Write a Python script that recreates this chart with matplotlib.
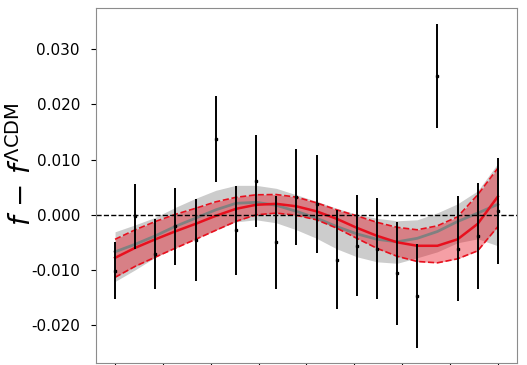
import matplotlib
matplotlib.use('Agg')
import matplotlib.pyplot as plt
import numpy as np

# redshift bins (20 measurements)
z = [0.1, 0.2, 0.3, 0.4, 0.5, 0.6, 0.7, 0.8, 0.9, 1.0,
     1.1, 1.2, 1.3, 1.4, 1.5, 1.6, 1.7, 1.8, 1.9, 2.0]

# data: f - f_LCDM and 1-sigma errors
df = [-0.0101, -0.0003, -0.0071, -0.0021, -0.0045, 0.0137, -0.0028, 0.0061, -0.0050, 0.0032,
      0.0020, -0.0081, -0.0056, -0.0061, -0.0106, -0.0147, 0.0251, -0.0061, -0.0039, 0.0007]
df_err = [0.0052, 0.0059, 0.0064, 0.0069, 0.0074, 0.0077, 0.0080, 0.0083, 0.0084, 0.0087,
          0.0089, 0.0090, 0.0091, 0.0092, 0.0093, 0.0094, 0.0094, 0.0095, 0.0096, 0.0096]

# reconstruction 1 (grey): mean and 1-sigma band
grey_mid = [-0.00669, -0.00533, -0.00380, -0.00208, -0.00060, 0.00090, 0.00208, 0.00226, 0.00172, 0.00063,
            -0.00060, -0.00212, -0.00344, -0.00443, -0.00488, -0.00425, -0.00302, -0.00121, 0.00031, 0.00190]
grey_hi = [-0.00307, -0.00181, -0.00045, 0.00136, 0.00298, 0.00443, 0.00533, 0.00533, 0.00479, 0.00362,
           0.00244, 0.00118, 0.00009, -0.00063, -0.00108, -0.00090, 0.00036, 0.00199, 0.00434, 0.00931]
grey_lo = [-0.01206, -0.00994, -0.00768, -0.00579, -0.00421, -0.00271, -0.00127, -0.00090, -0.00145, -0.00271,
           -0.00425, -0.00615, -0.00759, -0.00850, -0.00877, -0.00777, -0.00669, -0.00506, -0.00434, -0.00560]

# reconstruction 2 (red): mean and 1-sigma band
red_mid = [-0.00778, -0.00597, -0.00443, -0.00298, -0.00163, -0.00018, 0.00108, 0.00181, 0.00199, 0.00154,
           0.00063, -0.00072, -0.00235, -0.00380, -0.00497, -0.00560, -0.00560, -0.00443, -0.00163, 0.00331]
red_hi = [-0.00443, -0.00271, -0.00121, 0.00009, 0.00118, 0.00235, 0.00316, 0.00362, 0.00367, 0.00320,
          0.00217, 0.00090, -0.00018, -0.00136, -0.00226, -0.00271, -0.00199, -0.00036, 0.00362, 0.00844]
red_lo = [-0.01130, -0.00931, -0.00765, -0.00602, -0.00443, -0.00280, -0.00118, 0.00000, 0.00031, -0.00009,
          -0.00090, -0.00240, -0.00425, -0.00606, -0.00750, -0.00844, -0.00868, -0.00796, -0.00651, -0.00212]

yticks = [-0.020, -0.010, 0.000, 0.010, 0.020, 0.030]

fig = plt.figure(figsize=(5.27, 3.65), dpi=100)
ax = fig.add_axes([0.182, 0.0055, 0.799, 0.9725])

ax.fill_between(z, grey_lo, grey_hi, color='gray', alpha=0.4, lw=0)
ax.plot(z, grey_mid, color='gray', lw=2)

ax.fill_between(z, red_lo, red_hi, color='#e8101e', alpha=0.4, lw=0)
ax.plot(z, red_hi, color='#e8101e', lw=1.2, ls='--')
ax.plot(z, red_lo, color='#e8101e', lw=1.2, ls='--')
ax.plot(z, red_mid, color='#e8101e', lw=1.8)

ax.axhline(0, color='k', ls='--', lw=1)

ax.errorbar(z, df, yerr=df_err, fmt='s', color='k', ms=2, elinewidth=1.4, capsize=0)

ax.set_xlim(0.005, 2.095)
ax.set_ylim(-0.0268, 0.0374)
ax.set_xticks(np.linspace(z[0], z[-1], 9))
ax.set_xticklabels([])
ax.set_yticks(yticks)
ax.set_yticklabels(['%.3f' % t for t in yticks], fontsize=11)
ax.tick_params(axis='y', pad=8)
ax.set_ylabel(r'$f\,-\,f^{\Lambda\mathrm{CDM}}$', fontsize=20)
ax.yaxis.set_label_coords(-0.14, 0.56)
for s in ax.spines.values():
    s.set_color('0.55')

fig.savefig('out.png', dpi=100)
